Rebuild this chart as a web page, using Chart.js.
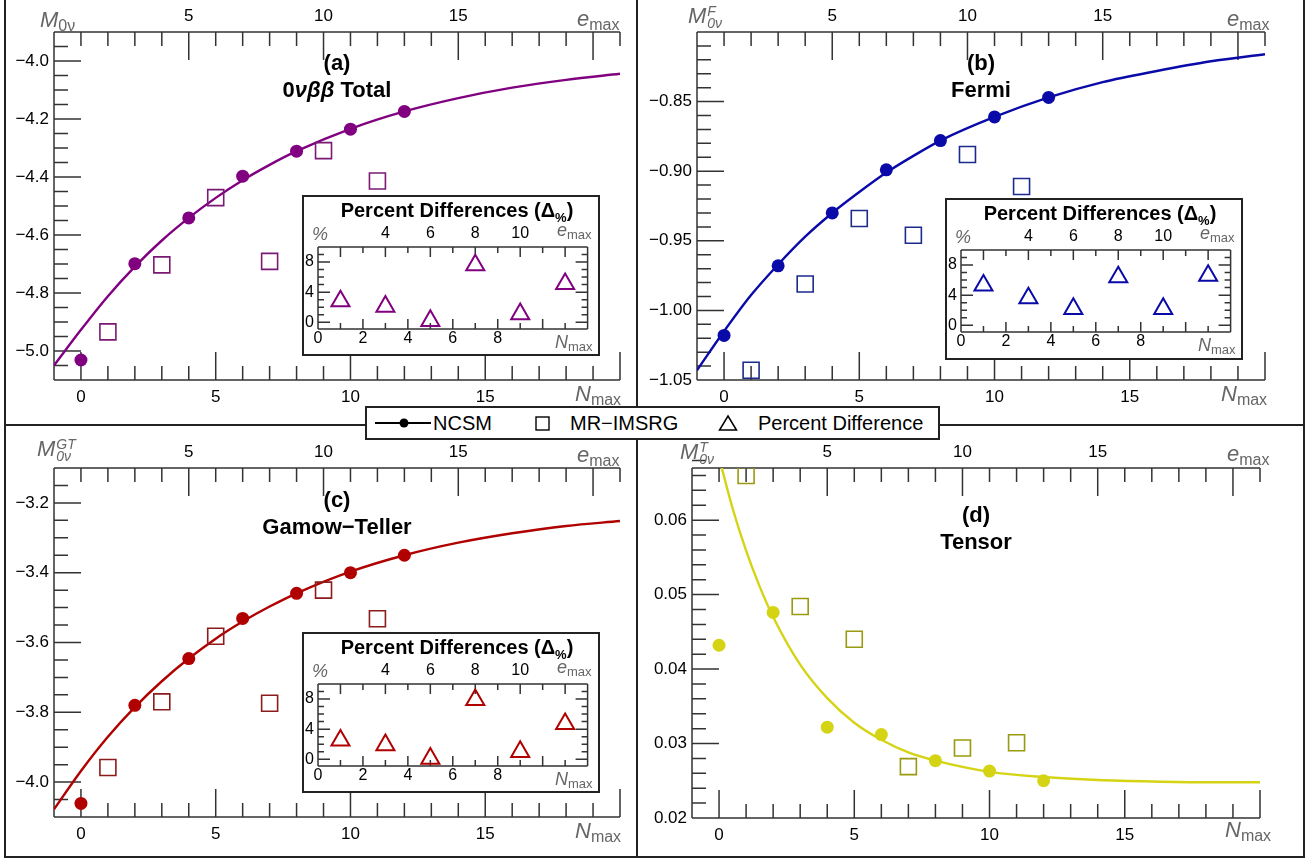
<!DOCTYPE html>
<html>
<head>
<meta charset="utf-8">
<script src="https://cdn.jsdelivr.net/npm/chart.js@4.4.1/dist/chart.umd.min.js"></script>
<style>
  body { margin: 0; background: #fff; }
  #wrap { position: relative; width: 1307px; height: 862px; overflow: hidden; background: #fff;
          font-family: "Liberation Sans", Arial, sans-serif; }
  canvas { position: absolute; }
  .ln { position: absolute; background: #222; }
  .t { position: absolute; white-space: nowrap; line-height: 1; }
  .ttl { font-weight: bold; font-size: 22px; color: #000; transform: translate(-50%, -50%); }
  .ins { font-weight: bold; font-size: 20px; color: #000; transform: translate(-50%, -50%); }
  .ax { color: #666; font-style: italic; font-size: 22px; }
  .ax .s { font-style: normal; font-size: 16px; position: relative; top: 4px; }
  .axs { color: #666; font-style: italic; font-size: 18px; }
  .axs .s { font-style: normal; font-size: 13px; position: relative; top: 3px; }
  .ss { display: inline-block; vertical-align: top; font-size: 14px; line-height: 12px; margin-left: 1px; }
  .ss span { display: block; }
  .lg { position: absolute; left: 365px; top: 406px; width: 571px; height: 30px;
        border: 2px solid #222; background: #fff; }
  .lt { position: absolute; font-size: 20px; line-height: 1; color: #000; top: 5px; white-space: nowrap; }
</style>
</head>
<body>
<div id="wrap">
  <canvas id="ca" width="636" height="424" style="left:0;top:0"></canvas>
  <canvas id="cb" width="670" height="424" style="left:637px;top:0"></canvas>
  <canvas id="cc" width="636" height="438" style="left:0;top:424px"></canvas>
  <canvas id="cd" width="670" height="438" style="left:637px;top:424px"></canvas>

  <div class="ln" style="left:4px;top:0;width:1.5px;height:858px"></div>
  <div class="ln" style="left:1303px;top:0;width:1.5px;height:858px"></div>
  <div class="ln" style="left:4px;top:856px;width:1301px;height:1.5px"></div>
  <div class="ln" style="left:636px;top:0;width:1.5px;height:858px"></div>
  <div class="ln" style="left:4px;top:424px;width:1301px;height:1.5px"></div>

  <canvas id="ia" width="298" height="161" style="left:302px;top:195px"></canvas>
  <canvas id="ib" width="298" height="162" style="left:945px;top:198px"></canvas>
  <canvas id="ic" width="298" height="161" style="left:302px;top:632px"></canvas>

  <div class="lg">
    <svg style="position:absolute;left:6px;top:5px" width="60" height="20">
      <line x1="2" y1="10" x2="58" y2="10" stroke="#000" stroke-width="2"/>
      <circle cx="31" cy="10" r="4.5" fill="#000"/>
    </svg>
    <span class="lt" style="left:66px">NCSM</span>
    <svg style="position:absolute;left:168px;top:8px" width="16" height="16">
      <rect x="1" y="1" width="13" height="13" fill="none" stroke="#000" stroke-width="1.4"/>
    </svg>
    <span class="lt" style="left:203px">MR&#8722;IMSRG</span>
    <svg style="position:absolute;left:351px;top:6px" width="20" height="18">
      <polygon points="10,2 18.5,16 1.5,16" fill="none" stroke="#000" stroke-width="1.5"/>
    </svg>
    <span class="lt" style="left:391px">Percent Difference</span>
  </div>
</div>

<script>
// axis tick labels
const nmaxLabels = [0, 5, 10, 15];
const emaxLabels = [5, 10, 15];
const insetNLabels = [0, 2, 4, 6, 8];
const insetELabels = [4, 6, 8, 10];
const insetPctLabels = [0, 4, 8];

// x positions of the points (N_max)
const ncsmN = [0, 2, 4, 6, 8, 10, 12];
const imsrgN = [1, 3, 5, 7, 9, 11];
const pctN = [1, 3, 5, 7, 9, 11];
const curveN = [-1, 0, 1, 2, 3, 4, 5, 6, 7, 8, 10, 12, 14, 16, 18, 20];
const curveNTensor = [0, 0.5, 1, 1.5, 2, 3, 4, 5, 6, 7, 8, 10, 12, 14, 16, 18, 20];

// (a) 0vbb total
const totalTicks = [-5.0, -4.8, -4.6, -4.4, -4.2, -4.0];
const totalNcsm = [-5.031, -4.699, -4.541, -4.397, -4.311, -4.235, -4.174];
const totalImsrg = [-4.934, -4.703, -4.471, -4.691, -4.309, -4.414];
const totalCurve = [-5.05, -4.927, -4.811, -4.709, -4.619, -4.541, -4.472, -4.411, -4.358, -4.311,
                    -4.234, -4.174, -4.128, -4.092, -4.065, -4.044];
const totalPct = [2.8, 2.1, 0.2, 7.6, 1.1, 5.1];

// (b) Fermi
const fermiTicks = [-1.05, -1.00, -0.95, -0.90, -0.85];
const fermiNcsm = [-1.018, -0.968, -0.930, -0.899, -0.878, -0.861, -0.847];
const fermiImsrg = [-1.043, -0.981, -0.934, -0.946, -0.888, -0.911];
const fermiCurve = [-1.043, -1.015, -0.989, -0.967, -0.947, -0.930, -0.915, -0.901, -0.889, -0.878,
                    -0.861, -0.847, -0.836, -0.828, -0.821, -0.816];
const fermiPct = [5.3, 3.6, 2.2, 6.4, 2.2, 6.6];

// (c) Gamow-Teller
const gtTicks = [-4.0, -3.8, -3.6, -3.4, -3.2];
const gtNcsm = [-4.061, -3.780, -3.646, -3.531, -3.459, -3.400, -3.350];
const gtImsrg = [-3.958, -3.770, -3.582, -3.774, -3.450, -3.532];
const gtCurve = [-4.078, -3.968, -3.870, -3.785, -3.711, -3.646, -3.589, -3.540, -3.497, -3.459,
                 -3.397, -3.350, -3.314, -3.287, -3.266, -3.252];
const gtPct = [2.5, 1.9, 0.1, 7.9, 1.0, 4.7];

// (d) Tensor
const tensorTicks = [0.02, 0.03, 0.04, 0.05, 0.06];
const tensorNcsm = [0.0432, 0.0476, 0.0322, 0.0312, 0.0277, 0.0263, 0.0250];
const tensorImsrg = [0.0660, 0.0484, 0.0440, 0.0269, 0.0294, 0.0301];
const tensorCurve = [0.0684, 0.0616, 0.0559, 0.0511, 0.0470, 0.0406, 0.0361, 0.0328, 0.0305, 0.0288,
                     0.0277, 0.0262, 0.0255, 0.0251, 0.0249, 0.0248, 0.0248];

const FONT = '"Liberation Sans", Arial, sans-serif';
Chart.defaults.font.family = FONT;
Chart.defaults.color = '#000';

function steps(lo, hi, step) {
  const out = [];
  const n = Math.round((hi - lo) / step);
  for (let i = 0; i <= n; i++) out.push(+(lo + i * step).toFixed(5));
  return out;
}
function without(list, majors) {
  return list.filter(v => !majors.some(m => Math.abs(m - v) < 1e-7));
}
function fmt(v, dec) {
  return (v < 0 ? '\u2212' : '') + Math.abs(v).toFixed(dec);
}
function pts(xs, ys) {
  return ys.map((y, i) => ({x: xs[i], y}));
}

// ROOT style frame with ticks pointing inwards
const frameTicks = {
  id: 'frameTicks',
  beforeDraw(chart, args, o) {
    if (!o.background) return;
    const {ctx, width, height} = chart;
    ctx.save();
    ctx.fillStyle = '#fff';
    ctx.fillRect(0, 0, width, height);
    ctx.strokeStyle = '#222';
    ctx.lineWidth = 2;
    ctx.strokeRect(1, 1, width - 2, height - 2);
    ctx.restore();
  },
  beforeDatasetsDraw(chart, args, o) {
    const {ctx, chartArea: a, scales} = chart;
    ctx.save();
    ctx.strokeStyle = '#333';
    ctx.lineWidth = 1.5;
    ctx.beginPath();
    (o.sides || []).forEach(s => {
      if (s === 'left') { ctx.moveTo(a.left, a.top); ctx.lineTo(a.left, a.bottom); }
      if (s === 'right') { ctx.moveTo(a.right, a.top); ctx.lineTo(a.right, a.bottom); }
      if (s === 'top') { ctx.moveTo(a.left, a.top); ctx.lineTo(a.right, a.top); }
      if (s === 'bottom') { ctx.moveTo(a.left, a.bottom); ctx.lineTo(a.right, a.bottom); }
    });
    (o.marks || []).forEach(m => {
      const sc = scales[m.scale];
      m.values.forEach(v => {
        const p = sc.getPixelForValue(v);
        if (m.side === 'bottom') { ctx.moveTo(p, a.bottom); ctx.lineTo(p, a.bottom - m.len); }
        else if (m.side === 'top') { ctx.moveTo(p, a.top); ctx.lineTo(p, a.top + m.len); }
        else if (m.side === 'left') { ctx.moveTo(a.left, p); ctx.lineTo(a.left + m.len, p); }
        else { ctx.moveTo(a.right, p); ctx.lineTo(a.right - m.len, p); }
      });
    });
    ctx.stroke();
    ctx.restore();
  }
};

function tickFont(size) {
  return {size: size, family: FONT};
}
const noGrid = {display: false, drawTicks: false};

function mainPanel(id, p) {
  const nMinor = without(steps(-1, 20, 1), [0, 5, 10, 15, 20, -1]);
  const eMinor = without(steps(0, 21, 1), [0, 5, 10, 15, 20]);
  const yMinor = without(steps(p.yMin, p.yMax, p.yMinorStep), p.yTicks);
  return new Chart(document.getElementById(id), {
    type: 'scatter',
    data: {
      datasets: [
        {data: pts(ncsmN, p.ncsm), pointStyle: 'circle', pointRadius: 6.5,
         backgroundColor: p.color, borderWidth: 0},
        {data: pts(imsrgN, p.imsrg), pointStyle: 'rect', pointRadius: 11.3,
         backgroundColor: 'rgba(0,0,0,0)', borderColor: p.sqColor, borderWidth: 1.6},
        {data: pts(p.curveN, p.curve), showLine: true, pointRadius: 0, borderColor: p.color,
         borderWidth: 2.4, cubicInterpolationMode: 'monotone'}
      ]
    },
    options: {
      responsive: false, animation: false, devicePixelRatio: 1, events: [],
      layout: {padding: {left: 0, top: 0, right: p.padRight, bottom: 0}},
      plugins: {
        legend: {display: false}, tooltip: {enabled: false},
        frameTicks: {
          sides: ['left', 'top', 'bottom'],
          marks: [
            {scale: 'x', side: 'bottom', values: [0, 5, 10, 15, 20], len: 28},
            {scale: 'x', side: 'bottom', values: nMinor, len: 14},
            {scale: 'xTop', side: 'top', values: [5, 10, 15, 20], len: 28},
            {scale: 'xTop', side: 'top', values: eMinor, len: 14},
            {scale: 'y', side: 'left', values: p.yTicks, len: 27},
            {scale: 'y', side: 'left', values: yMinor, len: 14}
          ]
        }
      },
      scales: {
        x: {
          type: 'linear', position: 'bottom', min: -1, max: 20,
          grid: noGrid, border: {display: false},
          afterBuildTicks: s => { s.ticks = nmaxLabels.map(v => ({value: v})); },
          ticks: {autoSkip: false, maxRotation: 0, padding: 7, font: tickFont(17), color: '#000'},
          afterFit: s => { s.height = p.bottomH; s.paddingLeft = 0; s.paddingRight = 0; }
        },
        xTop: {
          type: 'linear', axis: 'x', position: 'top', min: 0, max: 21,
          grid: noGrid, border: {display: false},
          afterBuildTicks: s => { s.ticks = emaxLabels.map(v => ({value: v})); },
          ticks: {autoSkip: false, maxRotation: 0, padding: 5, font: tickFont(17), color: '#000'},
          afterFit: s => { s.height = p.topH; s.paddingLeft = 0; s.paddingRight = 0; }
        },
        y: {
          type: 'linear', position: 'left', min: p.yMin, max: p.yMax,
          grid: noGrid, border: {display: false},
          afterBuildTicks: s => { s.ticks = p.yTicks.map(v => ({value: v})); },
          ticks: {autoSkip: false, padding: 5, font: tickFont(17), color: '#000',
                  callback: v => fmt(v, p.dec)},
          afterFit: s => { s.width = p.leftW; s.paddingTop = 0; s.paddingBottom = 0; }
        }
      }
    },
    plugins: [frameTicks]
  });
}

function insetPanel(id, p) {
  const nMajor = steps(0, 12, 2);
  const nMinor = steps(1, 11, 2);
  const eMajor = steps(2, 12, 2);
  const eMinor = steps(3, 11, 2);
  const pctMinor = without(steps(0, 9, 1), insetPctLabels);
  return new Chart(document.getElementById(id), {
    type: 'scatter',
    data: {
      datasets: [
        {data: pts(pctN, p.pct), pointStyle: 'triangle', pointRadius: 10.4,
         backgroundColor: 'rgba(0,0,0,0)', borderColor: p.color, borderWidth: 2}
      ]
    },
    options: {
      responsive: false, animation: false, devicePixelRatio: 1, events: [],
      layout: {padding: {left: 0, top: 0, right: 8, bottom: 0}},
      plugins: {
        legend: {display: false}, tooltip: {enabled: false},
        frameTicks: {
          background: true,
          sides: ['left', 'right', 'top', 'bottom'],
          marks: [
            {scale: 'x', side: 'bottom', values: nMajor, len: 10},
            {scale: 'x', side: 'bottom', values: nMinor, len: 6},
            {scale: 'xTop', side: 'top', values: eMajor, len: 10},
            {scale: 'xTop', side: 'top', values: eMinor, len: 6},
            {scale: 'y', side: 'left', values: insetPctLabels, len: 12},
            {scale: 'y', side: 'left', values: pctMinor, len: 6},
            {scale: 'y', side: 'right', values: insetPctLabels, len: 12},
            {scale: 'y', side: 'right', values: pctMinor, len: 6}
          ]
        }
      },
      scales: {
        x: {
          type: 'linear', position: 'bottom', min: 0, max: 12,
          grid: noGrid, border: {display: false},
          afterBuildTicks: s => { s.ticks = insetNLabels.map(v => ({value: v})); },
          ticks: {autoSkip: false, maxRotation: 0, padding: 0, font: tickFont(16), color: '#000'},
          afterFit: s => { s.height = p.h - 134; s.paddingLeft = 0; s.paddingRight = 0; }
        },
        xTop: {
          type: 'linear', axis: 'x', position: 'top', min: 1, max: 13,
          grid: noGrid, border: {display: false},
          afterBuildTicks: s => { s.ticks = insetELabels.map(v => ({value: v})); },
          ticks: {autoSkip: false, maxRotation: 0, padding: 4, font: tickFont(16), color: '#000'},
          afterFit: s => { s.height = 52; s.paddingLeft = 0; s.paddingRight = 0; }
        },
        y: {
          type: 'linear', position: 'left', min: -0.9, max: 10,
          grid: noGrid, border: {display: false},
          afterBuildTicks: s => { s.ticks = insetPctLabels.map(v => ({value: v})); },
          ticks: {autoSkip: false, padding: 4, font: tickFont(16), color: '#000'},
          afterFit: s => { s.width = 16; s.paddingTop = 0; s.paddingBottom = 0; }
        }
      }
    },
    plugins: [frameTicks]
  });
}

mainPanel('ca', {ncsm: totalNcsm, imsrg: totalImsrg, curveN: curveN, curve: totalCurve,
  yTicks: totalTicks, yMin: -5.1, yMax: -3.9, yMinorStep: 0.05, dec: 1,
  color: '#800080', sqColor: '#7a1a74', leftW: 54, padRight: 16, topH: 32, bottomH: 44});
mainPanel('cb', {ncsm: fermiNcsm, imsrg: fermiImsrg, curveN: curveN, curve: fermiCurve,
  yTicks: fermiTicks, yMin: -1.05, yMax: -0.80, yMinorStep: 0.01, dec: 2,
  color: '#0a0aa8', sqColor: '#1c2a8e', leftW: 60, padRight: 42, topH: 32, bottomH: 44});
mainPanel('cc', {ncsm: gtNcsm, imsrg: gtImsrg, curveN: curveN, curve: gtCurve,
  yTicks: gtTicks, yMin: -4.1, yMax: -3.1, yMinorStep: 0.05, dec: 1,
  color: '#b00000', sqColor: '#8c1c1c', leftW: 54, padRight: 16, topH: 44, bottomH: 45});
mainPanel('cd', {ncsm: tensorNcsm, imsrg: tensorImsrg, curveN: curveNTensor, curve: tensorCurve,
  yTicks: tensorTicks, yMin: 0.02, yMax: 0.067, yMinorStep: 0.002, dec: 2,
  color: '#d4d414', sqColor: '#9a9a10', leftW: 55, padRight: 47, topH: 44, bottomH: 44});

insetPanel('ia', {pct: totalPct, color: '#800080', h: 161});
insetPanel('ib', {pct: fermiPct, color: '#0a0aa8', h: 162});
insetPanel('ic', {pct: gtPct, color: '#b00000', h: 161});

// texts
const wrap = document.getElementById('wrap');
function addText(html, x, y, cls) {
  const d = document.createElement('div');
  d.className = 't ' + cls;
  d.style.left = x + 'px';
  d.style.top = y + 'px';
  d.innerHTML = html;
  wrap.appendChild(d);
  return d;
}

// panel titles
addText('(a)', 337, 63, 'ttl');
addText('0<i>&nu;&beta;&beta;</i> Total', 337, 90, 'ttl');
addText('(b)', 981, 63, 'ttl');
addText('Fermi', 981, 90, 'ttl');
addText('(c)', 337, 500, 'ttl');
addText('Gamow&#8722;Teller', 337, 527, 'ttl');
addText('(d)', 976, 515, 'ttl');
addText('Tensor', 976, 542, 'ttl');

// axis titles
const emax = 'e<span class="s">max</span>';
const nmax = 'N<span class="s">max</span>';
addText('M<span class="s">0&nu;</span>', 40, 9, 'ax');
addText('M<span class="ss"><span>F</span><span>0&nu;</span></span>', 688, 5, 'ax');
addText('M<span class="ss"><span>GT</span><span>0&nu;</span></span>', 37, 438, 'ax');
addText('M<span class="ss"><span>T</span><span>0&nu;</span></span>', 680, 441, 'ax');
addText(emax, 577, 8, 'ax');
addText(emax, 1227, 8, 'ax');
addText(emax, 577, 444, 'ax');
addText(emax, 1227, 443, 'ax');
addText(nmax, 575, 383, 'ax');
addText(nmax, 1221, 383, 'ax');
addText(nmax, 575, 820, 'ax');
addText(nmax, 1225, 819, 'ax');

// inset texts
const insets = [[302, 195], [945, 198], [302, 632]];
insets.forEach(([x, y]) => {
  addText('Percent Differences (&Delta;<span style="font-size:13px;position:relative;top:5px">%</span>)',
          x + 155, y + 15, 'ins');
  addText('%', x + 10, y + 30, 'axs');
  addText('e<span class="s">max</span>', x + 255, y + 26, 'axs');
  addText('N<span class="s">max</span>', x + 253, y + 138, 'axs');
});
</script>
</body>
</html>
